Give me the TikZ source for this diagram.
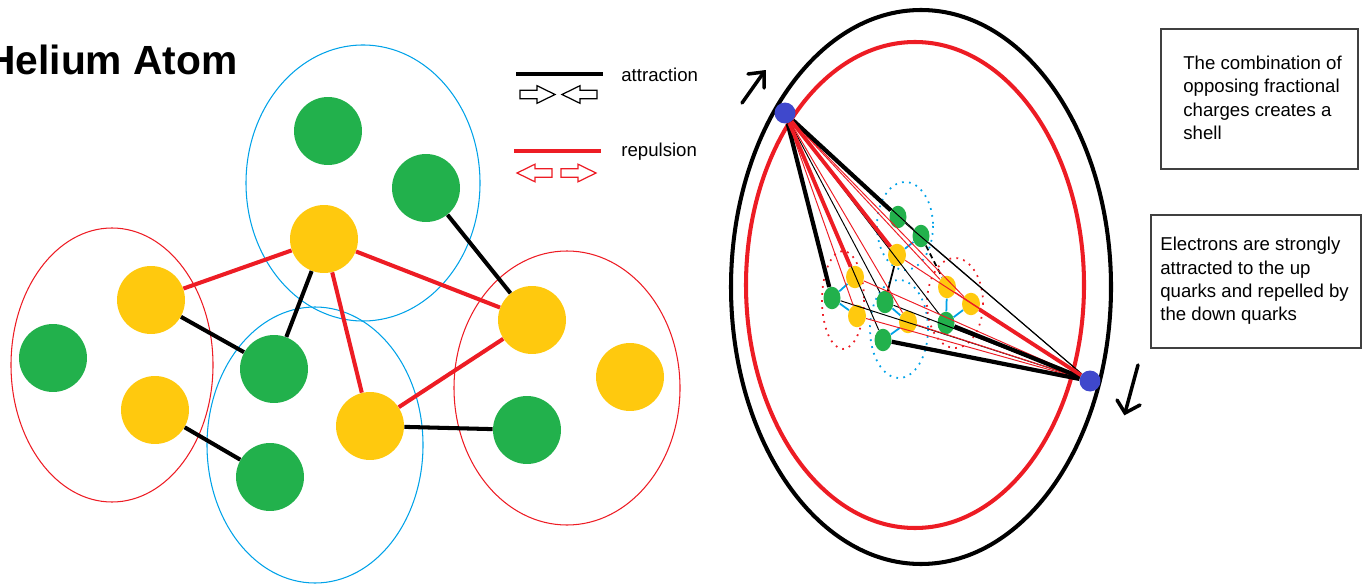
\documentclass[tikz,border=0pt]{standalone}
\usepackage{fontspec}
\setmainfont{Liberation Sans}
\usetikzlibrary{shapes.geometric,calc}

\definecolor{qgreen}{HTML}{22B14C}
\definecolor{qyellow}{HTML}{FFC90E}
\definecolor{qblue}{HTML}{00A2E8}
\definecolor{qred}{HTML}{ED1C24}
\definecolor{eblue}{HTML}{3F48CC}

\tikzset{
  gball/.style={circle, fill=qgreen, minimum size=1.36cm, inner sep=0pt},
  yball/.style={circle, fill=qyellow, minimum size=1.36cm, inner sep=0pt},
  gdot/.style={ellipse, fill=qgreen, minimum width=0.34cm, minimum height=0.45cm, inner sep=0pt},
  ydot/.style={ellipse, fill=qyellow, minimum width=0.36cm, minimum height=0.45cm, inner sep=0pt},
  electron/.style={circle, fill=eblue, minimum size=0.42cm, inner sep=0pt},
  attr/.style={draw=black, line width=2.3pt},
  repl/.style={draw=qred, line width=2.3pt},
  bluering/.style={draw=qblue, line width=0.6pt},
  redring/.style={draw=qred, line width=0.6pt},
  thinattr/.style={draw=black, line width=0.55pt},
  thinrepl/.style={draw=qred, line width=0.55pt},
  thickattr/.style={draw=black, line width=2.4pt},
  thickrepl/.style={draw=qred, line width=2.2pt},
  bond/.style={draw=qblue, line width=1pt},
  shortbond/.style={draw=black, line width=1pt},
  bluedots/.style={draw=qblue, line width=1pt, dash pattern=on 1pt off 3pt},
  reddots/.style={draw=qred, line width=1pt, dash pattern=on 1pt off 3pt},
  shell/.style={line width=2.3pt},
  motion/.style={draw=black, line width=2pt, line cap=round},
  legendtext/.style={font=\fontsize{10.6}{12.7}\selectfont, inner sep=0pt, anchor=base west},
  notetext/.style={font=\fontsize{10.6}{13.3}\selectfont, inner sep=0pt, align=left, anchor=west},
  notebox/.style={draw=black!75, line width=0.9pt, inner sep=0pt, anchor=north west},
  harrow/.pic={
    \draw[pic actions, line width=0.7pt]
      (0,-4.2) -- (17,-4.2) -- (17,-8.8) -- (35,0) -- (17,8.8) -- (17,4.2) -- (0,4.2) -- cycle;
  }
}

\begin{document}
\begin{tikzpicture}[x=0.02cm, y=-0.02cm]
\useasboundingbox (0,0) rectangle (1365,584);

% ---------- title ----------
\node[font=\fontsize{23.2}{27}\selectfont\bfseries, inner sep=0pt, anchor=base east] (title) at (238,75) {Helium Atom};

% ---------- nucleons (outlines) ----------
\draw[bluering] (363,183) ellipse [x radius=117, y radius=138];
\draw[redring]  (112,365) ellipse [x radius=101, y radius=137];
\draw[bluering] (315,445) ellipse [x radius=108, y radius=138];
\draw[redring]  (567,388) ellipse [x radius=113, y radius=137];

% ---------- quarks ----------
\node[gball] (gT1) at (328,131) {};
\node[gball] (gT2) at (426,188) {};
\node[yball] (yT)  at (324,239) {};
\node[yball] (yL1) at (151,300) {};
\node[gball] (gL)  at (53,358)  {};
\node[yball] (yL2) at (155,410) {};
\node[gball] (gB1) at (274,369) {};
\node[yball] (yB)  at (370,426) {};
\node[gball] (gB2) at (270,477) {};
\node[yball] (yR1) at (532,320) {};
\node[yball] (yR2) at (630,377) {};
\node[gball] (gR)  at (527,430) {};

% attraction between unlike quarks
\draw[attr] (gT2) -- (yR1);
\draw[attr] (yT)  -- (gB1);
\draw[attr] (yL1) -- (gB1);
\draw[attr] (yL2) -- (gB2);
\draw[attr] (yB)  -- (gR);
% repulsion between up quarks
\draw[repl] (yL1) -- (yT);
\draw[repl] (yT)  -- (yR1);
\draw[repl] (yT)  -- (yB);
\draw[repl] (yB)  -- (yR1);

% ---------- legend ----------
\coordinate (la) at (516,74);
\coordinate (lb) at (603,74);
\draw[line width=2.4pt] (la) -- (lb);
\node[legendtext] (lattr) at (621,82) {attraction};
\pic at (520,94.5) {harrow};
\pic[xscale=-1] at (597,94.5) {harrow};

\coordinate (lc) at (514,151);
\coordinate (ld) at (601,151);
\draw[line width=2.4pt, qred] (lc) -- (ld);
\node[legendtext] (lrep) at (621,157) {repulsion};
\pic[draw=qred, xscale=-1] at (552,173) {harrow};
\pic[draw=qred] at (561,173) {harrow};

% ---------- shell ----------
\draw[shell, black] (921,287) ellipse [x radius=190, y radius=277];
\draw[shell, qred]  (915,285) ellipse [x radius=169, y radius=243];

% ---------- small nucleus ----------
\draw[bluedots] (905,226) ellipse [x radius=28, y radius=44];
\draw[reddots]  (843,300) ellipse [x radius=21, y radius=49];
\draw[bluedots] (899,329) ellipse [x radius=29, y radius=49];
\draw[reddots]  (955,303) ellipse [x radius=28, y radius=45];

\node[gdot] (sgT1) at (898,217) {};
\node[gdot] (sgT2) at (921,236) {};
\node[ydot] (syT)  at (897,255) {};
\node[ydot] (syL1) at (855,277) {};
\node[gdot] (sgL)  at (832,298) {};
\node[ydot] (syL2) at (857,316) {};
\node[gdot] (sgB1) at (885,302) {};
\node[ydot] (syB)  at (908,322) {};
\node[gdot] (sgB2) at (883,340) {};
\node[ydot] (syR1) at (947,287) {};
\node[ydot] (syR2) at (971,304) {};
\node[gdot] (sgR)  at (946,323) {};

\draw[bond] (sgL) -- (syL1);
\draw[bond] (sgL) -- (syL2);
\draw[bond] (sgB1) -- (syB);
\draw[bond] (syB) -- (sgB2);
\draw[bond] (syT) -- (sgT2);
\draw[bond] (syR1) -- (sgR);
\draw[bond] (syR2) -- (sgR);
\draw[shortbond] (syT) -- (sgB1);
\draw[shortbond, densely dashed] (sgT2) -- (syR1);

% ---------- electrons ----------
\node[electron] (e1) at (785,113) {};
\node[electron] (e2) at (1090,381) {};

% pull and push on every quark from each electron
\foreach \q in {sgT1,sgT2,sgL,sgB1,sgB2,sgR} {
  \draw[thinattr] (e1) -- (\q);
  \draw[thinattr] (e2) -- (\q);
}
\foreach \q in {syT,syL1,syL2,syB,syR1,syR2} {
  \draw[thinrepl] (e1) -- (\q);
  \draw[thinrepl] (e2) -- (\q);
}
\draw[thickattr] (e1) -- (sgT1);
\draw[thickattr] (e1) -- (sgL);
\draw[thickrepl] (e1) -- (syL1);
\draw[thickrepl] (e1) -- (syT);
\draw[thickattr] (e2) -- (sgB2);
\draw[thickattr] (e2) -- (sgR);
\draw[thickrepl] (e2) -- (syR2);

% direction of electron motion
\coordinate (m1a) at (742,103);
\coordinate (m1b) at (764,72);
\draw[motion] (m1a) -- (m1b);
\draw[motion] (748,74) -- (m1b) -- (764,88);
\coordinate (m2a) at (1138,365);
\coordinate (m2b) at (1125,413);
\draw[motion] (m2a) -- (m2b);
\draw[motion] (1117,400) -- (m2b) -- (1140,405);

% ---------- notes ----------
\node[notebox, minimum width=3.94cm, minimum height=2.8cm] (box1) at (1160,28) {};
\node[notetext] (note1) at (1183,98) {The combination of\\opposing fractional\\charges creates a\\shell};
\node[notebox, minimum width=4.2cm, minimum height=2.66cm] (box2) at (1150,214) {};
\node[notetext] (note2) at (1160,281) {Electrons are strongly\\attracted to the up\\quarks and repelled by\\the down quarks};

\end{tikzpicture}
\end{document}
